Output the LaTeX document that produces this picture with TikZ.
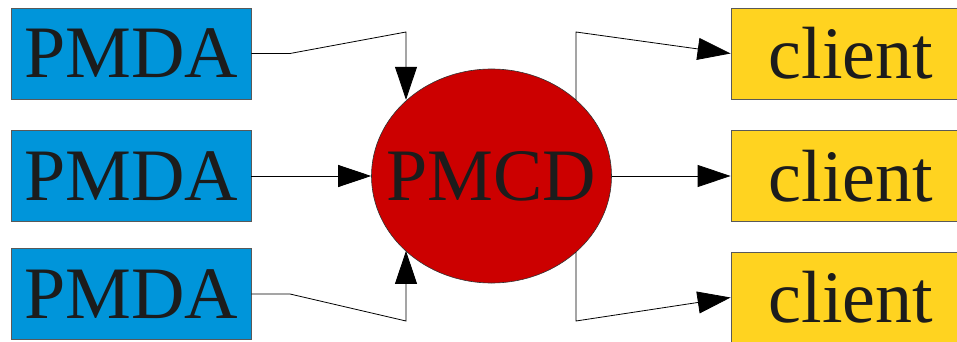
\documentclass[tikz,border=0pt]{standalone}
\usepackage{fontspec}
\setmainfont{Liberation Serif}
\usetikzlibrary{arrows.meta,shapes.geometric}
\definecolor{agentblue}{HTML}{0095DA}
\definecolor{clientyellow}{HTML}{FFD320}
\definecolor{daemonred}{HTML}{CC0000}
\definecolor{ink}{HTML}{1C1C1C}
\begin{document}
\begin{tikzpicture}[x=1pt,y=-1pt,
  bigtext/.style={font=\fontsize{74}{74}\selectfont, text=ink},
  agent/.style={draw=black!65, line width=0.8pt, fill=agentblue,
    minimum width=240pt, minimum height=91pt, inner sep=0pt, bigtext},
  consumer/.style={agent, fill=clientyellow},
  daemon/.style={ellipse, draw=black!80, line width=0.6pt, fill=daemonred,
    minimum width=240pt, minimum height=214pt, inner sep=0pt},
  link/.style={draw=black, line width=0.8pt, -{Triangle[length=33pt,width=22pt]}}
]
\useasboundingbox (0,0) rectangle (957,342);
\clip (0,0) rectangle (957,342);

% performance metrics domain agents
\node[agent] (a1) at (131,53.5) {PMDA};
\node[agent] (a2) at (131,176) {PMDA};
\node[agent] (a3) at (131,294) {PMDA};

% collector daemon
\node[daemon] (pmcd) at (491.5,176) {};
\node[bigtext] (pmcdlabel) at (pmcd.center) {PMCD};

% clients
\node[consumer] (c1) at (851,53.5) {client};
\node[consumer] (c2) at (851,176) {client};
\node[consumer] (c3) at (851,297.5) {client};

% bend points
\coordinate (k1) at (290,53.5);
\coordinate (m1) at (406,32);
\coordinate (k3) at (290,294);
\coordinate (m3) at (406,321);
\coordinate (r1) at (576,32);
\coordinate (r3) at (576,321);

% agents to daemon
\draw[link] (a1.east) -- (k1) -- (m1) -- (m1 |- pmcd.138.7);
\draw[link] (a2.east) -- (a2.east -| pmcd.west);
\draw[link] (a3.east) -- (k3) -- (m3) -- (m3 |- pmcd.221.3);

% daemon to clients
\draw[link] (r1 |- pmcd.42) -- (r1) -- (c1.west);
\draw[link] (pmcd.east) -- (c2.west);
\draw[link] (r3 |- pmcd.318) -- (r3) -- (c3.west);
\end{tikzpicture}
\end{document}
